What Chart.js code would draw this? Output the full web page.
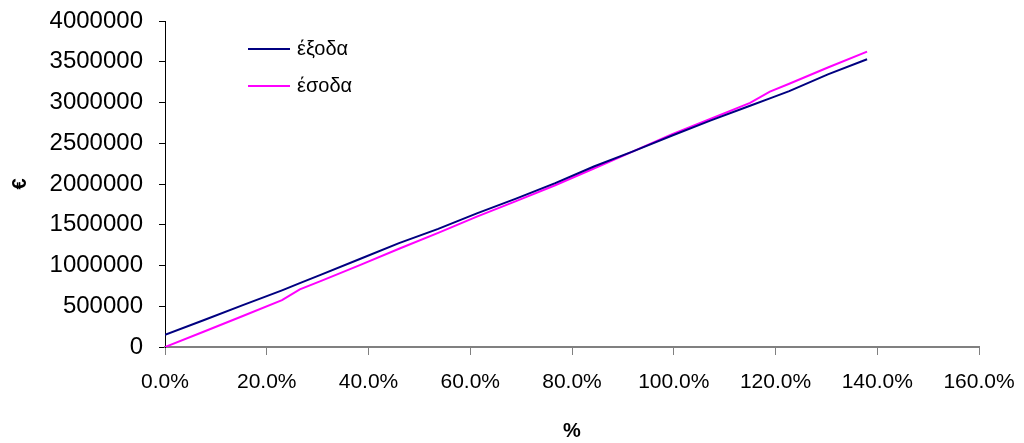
<!DOCTYPE html>
<html>
<head>
<meta charset="utf-8">
<script src="https://cdn.jsdelivr.net/npm/chart.js@4.4.1/dist/chart.umd.min.js"></script>
<style>
  html, body { margin: 0; padding: 0; background: #fff; }
  #wrap { position: relative; width: 1024px; height: 443px; }
  #legend { position: absolute; left: 248px; top: 30px; font-family: "Liberation Sans", Arial, sans-serif; font-size: 20px; color: #000; }
  .item { display: flex; align-items: center; height: 37px; }
  .swatch { width: 42px; height: 2px; margin-right: 7px; }
</style>
</head>
<body>
<div id="wrap">
  <canvas id="lineChart" width="1024" height="443"></canvas>
  <div id="legend"></div>
</div>
<script>
// percentages on the x axis
const percents = [0, 7.7, 15.3, 23.0, 26.5, 30.7, 38.3, 46.0, 53.7, 61.3, 69.0, 76.7, 84.3, 92.0, 99.7, 107.3, 115.0, 118.9, 122.7, 130.3, 138.0];
// έξοδα (expenses)
const expenses = [150000, 332000, 513000, 695000, 783000, 888000, 1080000, 1275000, 1450000, 1640000, 1820000, 2010000, 2215000, 2400000, 2595000, 2780000, 2960000, 3050000, 3140000, 3345000, 3530000];
// έσοδα (revenue)
const revenue = [0, 190000, 380000, 575000, 708000, 812000, 1005000, 1205000, 1400000, 1600000, 1790000, 1985000, 2190000, 2400000, 2612000, 2800000, 2995000, 3133000, 3230000, 3430000, 3625000];
const seriesNames = ['έξοδα', 'έσοδα'];
const seriesColors = ['#000080', '#FF00FF'];

const font = "'Liberation Sans', Arial, sans-serif";
const ctx = document.getElementById('lineChart').getContext('2d');

function toPoints(ys) {
  return percents.map((p, i) => ({ x: p, y: ys[i] }));
}

const lineChart = new Chart(ctx, {
  type: 'scatter',
  data: {
    datasets: [
      { label: seriesNames[0], data: toPoints(expenses), borderColor: seriesColors[0], showLine: true, borderWidth: 2, pointRadius: 0, tension: 0 },
      { label: seriesNames[1], data: toPoints(revenue), borderColor: seriesColors[1], showLine: true, borderWidth: 2, pointRadius: 0, tension: 0 }
    ]
  },
  options: {
    responsive: false,
    animation: false,
    layout: { padding: { left: 0, right: 45, top: 21, bottom: 0 } },
    plugins: { legend: { display: false }, tooltip: { enabled: false } },
    scales: {
      x: {
        type: 'linear',
        min: 0,
        max: 160,
        afterFit: (scale) => { scale.height = 96; scale.paddingLeft = 0; scale.paddingRight = 0; },
        ticks: {
          stepSize: 20,
          color: '#000',
          padding: 15,
          maxRotation: 0,
          font: { family: font, size: 21 },
          callback: (v) => v.toFixed(1) + '%'
        },
        grid: { drawOnChartArea: false, drawTicks: true, tickLength: 8, color: '#808080', lineWidth: 1 },
        border: { display: true, color: '#808080', width: 2 },
        title: { display: true, text: '%', color: '#000', font: { family: font, size: 20, weight: 'bold' }, padding: { top: 9, bottom: 0 } }
      },
      y: {
        min: 0,
        max: 4000000,
        afterFit: (scale) => { scale.width = 165; scale.paddingTop = 0; scale.paddingBottom = 0; },
        ticks: {
          stepSize: 500000,
          color: '#000',
          padding: 16,
          font: { family: font, size: 24 },
          callback: (v) => String(v)
        },
        grid: { drawOnChartArea: false, drawTicks: true, tickLength: 6, color: '#000', lineWidth: 1 },
        border: { display: true, color: '#000', width: 1 },
        title: { display: true, text: '€', color: '#000', font: { family: font, size: 20, weight: 'bold' }, padding: { top: 8, bottom: 0 } }
      }
    }
  }
});

// legend drawn as html, placed inside plot area like the original
const legend = document.getElementById('legend');
seriesNames.forEach((name, i) => {
  const row = document.createElement('div');
  row.className = 'item';
  row.innerHTML = `<span class="swatch" style="background:${seriesColors[i]}"></span><span>${name}</span>`;
  legend.appendChild(row);
});
</script>
</body>
</html>
